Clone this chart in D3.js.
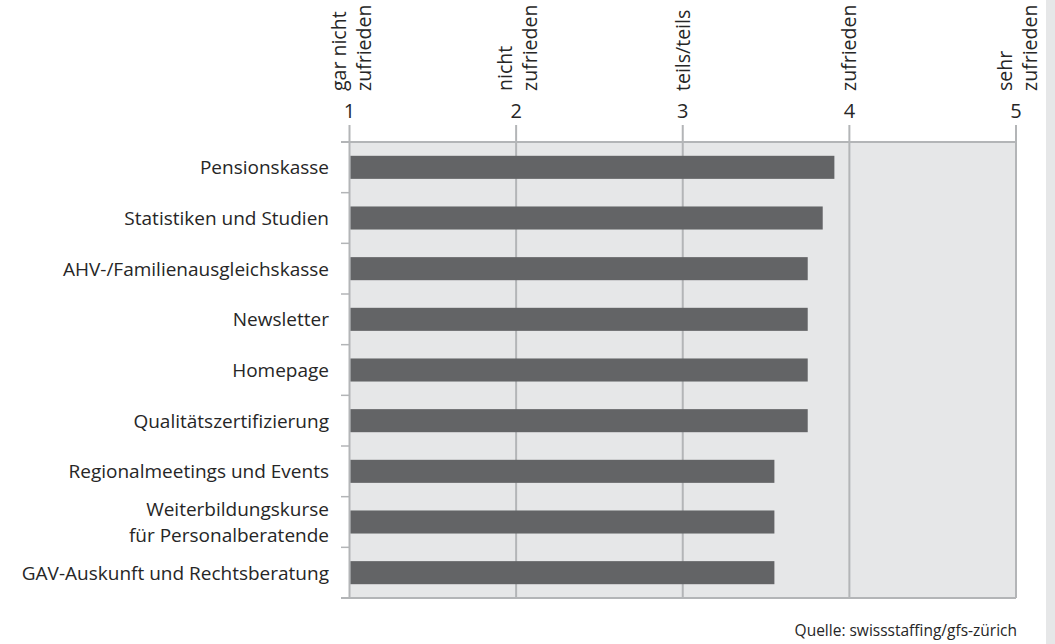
<!DOCTYPE html>
<html>
<head>
  <meta charset="utf-8">
  <title>Zufriedenheit Dienstleistungen</title>
  <script src="https://d3js.org/d3.v7.min.js"></script>
  <style>
    html, body { margin: 0; padding: 0; background: #fff; }
    svg { display: block; font-family: "Open Sans", "Noto Sans", sans-serif; font-weight: 400; }
  </style>
</head>
<body>
  <div id="chart"></div>
  <script>
    // data
    var categories = [
      "Pensionskasse",
      "Statistiken und Studien",
      "AHV-/Familienausgleichskasse",
      "Newsletter",
      "Homepage",
      "Qualitätszertifizierung",
      "Regionalmeetings und Events",
      "Weiterbildungskurse\nfür Personalberatende",
      "GAV-Auskunft und Rechtsberatung"
    ];
    var values = [3.91, 3.84, 3.75, 3.75, 3.75, 3.75, 3.55, 3.55, 3.55];
    var tickValues = [1, 2, 3, 4, 5];
    var tickLabels = [
      ["gar nicht", "zufrieden"],
      ["nicht", "zufrieden"],
      ["teils/teils"],
      ["zufrieden"],
      ["sehr", "zufrieden"]
    ];
    var source = "Quelle: swissstaffing/gfs-zürich";

    var W = 1055, H = 644;
    var lineCol = "#b3b5b7", barCol = "#636466", bgCol = "#e6e7e8", textCol = "#262626";

    var svg = d3.select("#chart").append("svg")
      .attr("width", W)
      .attr("height", H);

    // grey strip on the right edge
    svg.append("rect")
      .attr("x", 1046).attr("y", 0)
      .attr("width", W - 1046).attr("height", H)
      .attr("fill", bgCol);

    var plotTop = 142, plotBottom = 598;

    var x = d3.scaleLinear().domain([1, 5]).range([349.5, 1016]);
    var y = d3.scaleBand()
      .domain(categories)
      .range([plotTop, plotBottom])
      .paddingInner(0.545)
      .paddingOuter(0.2725);

    // plot background
    svg.append("rect")
      .attr("x", x(1)).attr("y", plotTop)
      .attr("width", x(5) - x(1)).attr("height", plotBottom - plotTop)
      .attr("fill", bgCol);

    // vertical grid lines, running up past the top as ticks
    svg.selectAll("line.grid")
      .data(tickValues)
      .enter().append("line")
      .attr("class", "grid")
      .attr("x1", function (d) { return x(d); })
      .attr("x2", function (d) { return x(d); })
      .attr("y1", 125).attr("y2", plotBottom)
      .attr("stroke", lineCol)
      .attr("stroke-width", 2);

    // top and bottom frame lines
    svg.selectAll("line.frame")
      .data([plotTop, plotBottom])
      .enter().append("line")
      .attr("class", "frame")
      .attr("x1", 341).attr("x2", x(5))
      .attr("y1", function (d) { return d; })
      .attr("y2", function (d) { return d; })
      .attr("stroke", lineCol)
      .attr("stroke-width", 2);

    // small ticks between categories on the left
    var step = y.step();
    var bounds = d3.range(1, categories.length).map(function (i) { return plotTop + step * i; });
    svg.selectAll("line.ytick")
      .data(bounds)
      .enter().append("line")
      .attr("class", "ytick")
      .attr("x1", 341).attr("x2", x(1))
      .attr("y1", function (d) { return d; })
      .attr("y2", function (d) { return d; })
      .attr("stroke", lineCol)
      .attr("stroke-width", 1.5);

    // bars
    svg.selectAll("rect.bar")
      .data(values)
      .enter().append("rect")
      .attr("class", "bar")
      .attr("x", x(1) + 1)
      .attr("y", function (d, i) { return y(categories[i]); })
      .attr("width", function (d) { return x(d) - x(1) - 1; })
      .attr("height", y.bandwidth())
      .attr("fill", barCol);

    // category labels
    var lh = 26;
    svg.selectAll("text.cat")
      .data(categories)
      .enter().append("text")
      .attr("class", "cat")
      .attr("text-anchor", "end")
      .attr("font-size", 19)
      .attr("fill", textCol)
      .each(function (d) {
        var lines = d.split("\n");
        var cy = y(d) + y.bandwidth() / 2;
        var t = d3.select(this);
        lines.forEach(function (l, j) {
          t.append("tspan")
            .attr("x", 329)
            .attr("y", cy + 7 + (j - (lines.length - 1) / 2) * lh)
            .text(l);
        });
      });

    // tick numbers
    svg.selectAll("text.num")
      .data(tickValues)
      .enter().append("text")
      .attr("class", "num")
      .attr("x", function (d) { return x(d); })
      .attr("y", 118)
      .attr("text-anchor", "middle")
      .attr("font-size", 20)
      .attr("fill", textCol)
      .text(function (d) { return d; });

    // rotated scale labels
    tickValues.forEach(function (v, i) {
      var lines = tickLabels[i];
      lines.forEach(function (l, j) {
        var base = lines.length === 1 ? x(v) + 7 : x(v) - 4 + j * 25;
        svg.append("text")
          .attr("transform", "translate(" + base + ",91) rotate(-90)")
          .attr("font-size", 19.5)
          .attr("fill", textCol)
          .text(l);
      });
    });

    // source
    svg.append("text")
      .attr("x", 1017).attr("y", 636)
      .attr("text-anchor", "end")
      .attr("font-size", 15.5)
      .attr("fill", textCol)
      .text(source);
  </script>
</body>
</html>
